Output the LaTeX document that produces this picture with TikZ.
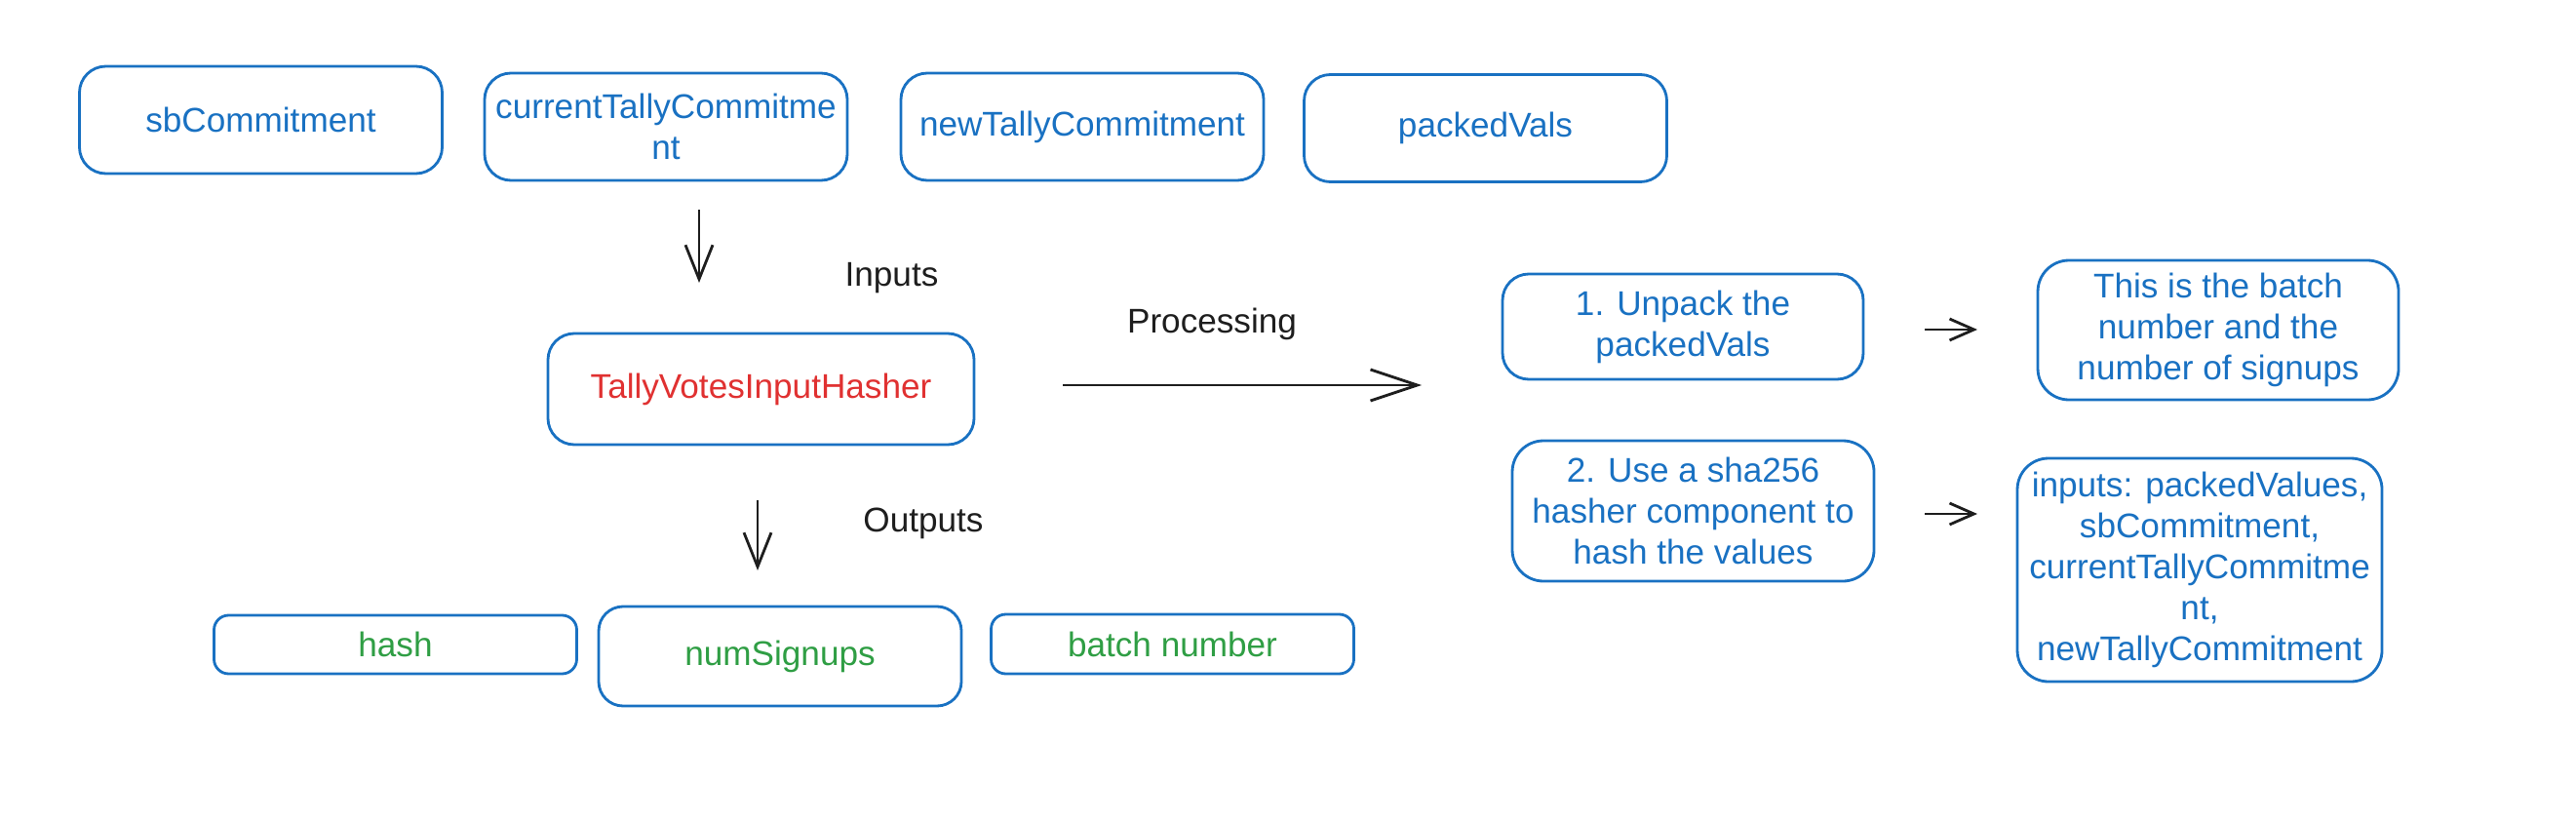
\documentclass[tikz,border=0pt]{standalone}
\usepackage{fontspec}
\setmainfont{Liberation Sans}
\usetikzlibrary{arrows.meta}
\usetikzlibrary{positioning}

\definecolor{sketchblue}{HTML}{1971C2}
\definecolor{sketchred}{HTML}{E03131}
\definecolor{sketchgreen}{HTML}{2F9E44}
\definecolor{sketchink}{HTML}{1E1E1E}

\begin{document}
\begin{tikzpicture}
    [   > = {Straight Barb[length=3.5mm,width=2.8mm]}
    ,   card/.style = {draw = sketchblue, line width = 0.8pt, rounded corners = 2.7mm,
                       align = center, inner sep = 0pt, text = sketchblue,
                       font = \fontsize{10}{11.9}\selectfont}
    ,   flow/.style = {->, draw = sketchink, line width = 0.8pt}
    ,   caption/.style = {inner sep = 0pt, text = sketchink, font = \fontsize{10}{12}\selectfont}
    ]
    \useasboundingbox (0mm,0mm) rectangle (264.2mm,84.2mm);

    % values going into the hasher
    \foreach\k/\x/\y/\txt in {sb/26.75/71.9/sbCommitment,
                              cur/68.3/71.2/{currentTallyCommitme\\nt},
                              new/111/71.2/newTallyCommitment,
                              packed/152.35/71.05/packedVals}
    {
        \node[card, minimum width = 37.2mm, minimum height = 11mm] (\k) at (\x mm,\y mm) {\txt};
    }

    \node[card, text = sketchred, minimum width = 43.7mm, minimum height = 11.4mm]
        (hasher) at (78.05mm,44.3mm) {TallyVotesInputHasher};

    \coordinate (in top) at (71.7mm,62.7mm);
    \coordinate (in tip) at (71.7mm,55.2mm);
    \draw[flow] (in top) -- (in tip);
    \node[caption] (inputs) at (91.45mm,55.7mm) {Inputs};

    \coordinate (proc start) at (109mm,44.7mm);
    \coordinate (proc tip) at (145.8mm,44.7mm);
    \draw[flow, -{Straight Barb[length=4.8mm,width=3.2mm]}] (proc start) -- (proc tip);
    \node[caption] (processing) at (124.3mm,51mm) {Processing};

    % what the processing does
    \node[card, minimum width = 37mm, minimum height = 10.8mm]
        (unpack) at (172.6mm,50.7mm) {1. Unpack the\\packedVals};
    \node[card, rounded corners = 3.2mm, minimum width = 37mm, minimum height = 14.3mm]
        (batchinfo) at (227.5mm,50.35mm) {This is the batch\\number and the\\number of signups};
    \node[card, rounded corners = 3.2mm, minimum width = 37.1mm, minimum height = 14.4mm]
        (hashing) at (173.65mm,31.8mm) {2. Use a sha256\\hasher component to\\hash the values};
    \node[card, rounded corners = 3.2mm, minimum width = 37.4mm, minimum height = 22.9mm]
        (hashinputs) at (225.6mm,25.75mm)
        {inputs: packedValues,\\sbCommitment,\\currentTallyCommitme\\nt,\\newTallyCommitment};

    \foreach\a/\y in {1/50.4,2/31.5}
    {
        \coordinate (note\a) at (197.4mm,\y mm);
        \coordinate (note\a tip) at (202.8mm,\y mm);
        \draw[flow, -{Straight Barb[length=2.5mm,width=2.2mm]}] (note\a) -- (note\a tip);
    }

    % values coming out
    \coordinate (out top) at (77.7mm,32.9mm);
    \coordinate (out tip) at (77.7mm,25.7mm);
    \draw[flow] (out top) -- (out tip);
    \node[caption] (outputs) at (94.7mm,30.5mm) {Outputs};

    \foreach\k/\x/\y/\h/\r/\txt in {hash/40.55/18.1/6/1.5/hash,
                                    numsignups/80/16.9/10.2/2.5/numSignups,
                                    batchno/120.25/18.15/6.1/1.5/batch number}
    {
        \node[card, text = sketchgreen, rounded corners = \r mm,
              minimum width = 37.2mm, minimum height = \h mm] (\k) at (\x mm,\y mm) {\txt};
    }
\end{tikzpicture}
\end{document}
